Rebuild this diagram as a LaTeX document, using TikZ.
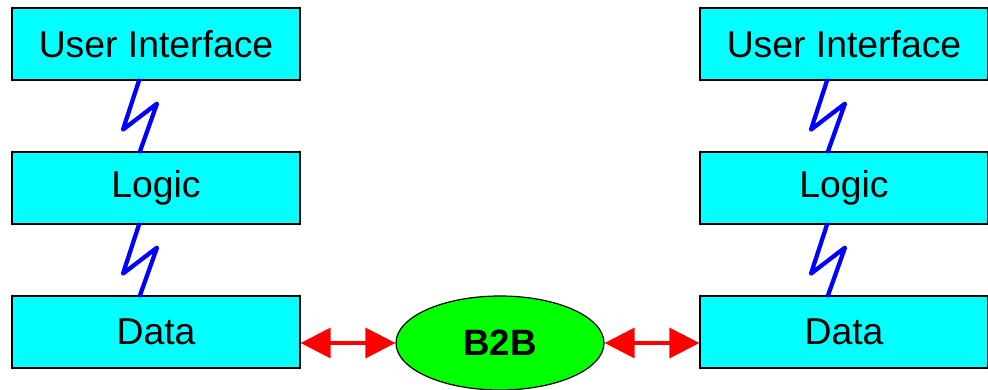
\documentclass[tikz,border=0pt]{standalone}
\usepackage{fontspec}
\setmainfont{Liberation Sans}
\usetikzlibrary{positioning,shapes.geometric,arrows.meta}
\definecolor{aqua}{RGB}{0,255,255}
\definecolor{lime}{RGB}{0,255,0}

\begin{document}
\begin{tikzpicture}[x=0.75pt,y=-0.75pt,node distance=108pt,on grid,
   layer/.style={draw=black,line width=0.9pt,fill=aqua,minimum width=216pt,minimum height=54pt,inner sep=0pt,font=\fontsize{28}{33}\selectfont},
   hub/.style={ellipse,draw=black,line width=0.9pt,fill=lime,minimum width=156pt,minimum height=70.5pt,inner sep=0pt,font=\fontsize{27.5}{32}\selectfont\bfseries},
   zap/.style={blue,line width=3.2pt,line cap=round,line join=round},
   link/.style={red,line width=2.5pt,{Triangle[length=22.5pt,width=22.5pt]}-{Triangle[length=22.5pt,width=22.5pt]}}] 
   \useasboundingbox (0,0) rectangle (988,389);
   \node[layer] (ui_l) at (156,44) {User Interface};
   \node[layer] (logic_l) [below=of ui_l] {Logic};
   \node[layer] (data_l) [below=of logic_l] {Data};
   \node[layer] (ui_r) [right=516pt of ui_l] {User Interface};
   \node[layer] (logic_r) [below=of ui_r] {Logic};
   \node[layer] (data_r) [below=of logic_r] {Data};
   \node[hub] (b2b) [right=258pt of data_l,yshift=-8.25pt] {B2B};
   % lightning links between the layers
   \foreach \up/\down in {ui_l/logic_l,logic_l/data_l,ui_r/logic_r,logic_r/data_r}
      \draw[zap] ([xshift=-12.75pt]\up.south) -- ++(-12pt,-36.75pt) -- ++(25.5pt,19.5pt) -- ([xshift=-12pt]\down.north);
   \draw[link] (data_l.east |- b2b.west) -- (b2b.west);
   \draw[link] (b2b.east) -- (data_r.west |- b2b.east);
\end{tikzpicture}
\end{document}
